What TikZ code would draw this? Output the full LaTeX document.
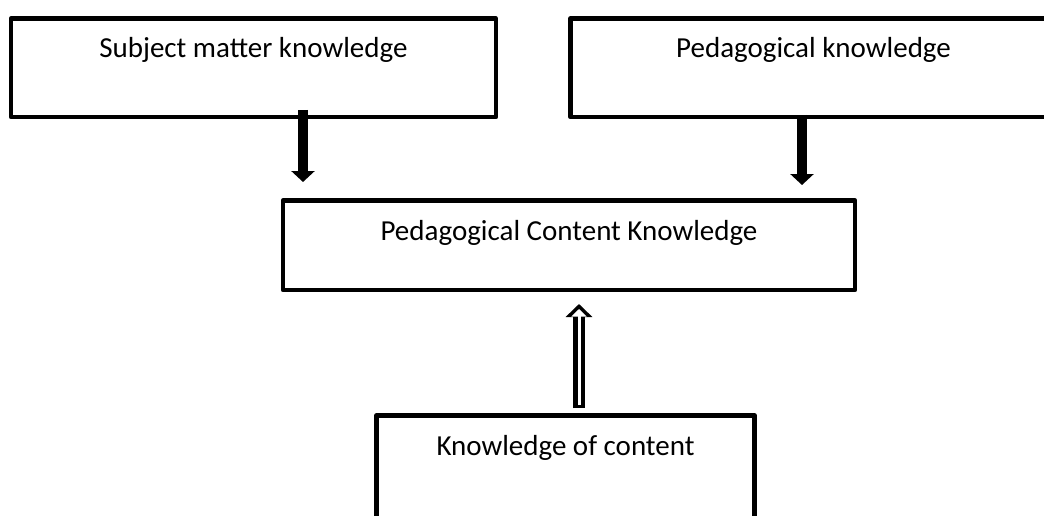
\documentclass[tikz,border=0pt]{standalone}
\usepackage{fontspec}
\setmainfont{Carlito}
\usetikzlibrary{shapes,arrows.meta}
\tikzstyle{block} = [rectangle, draw=black, line width=4.5pt, line join=round, inner sep=0pt, outer sep=0pt, anchor=base, text height=39.5pt, font=\fontsize{29}{34}\selectfont]
\tikzstyle{solidarrow} = [line width=10pt, -{Triangle[width=23pt,length=11pt]}]
\tikzstyle{hollowarrow} = [line width=12pt, -{Triangle[width=26pt,length=13pt]}]
\tikzstyle{hollowcore} = [draw=white, line width=3pt, -{Triangle[width=15pt,length=7.5pt]}]

\begin{document}
\begin{tikzpicture}[x=1pt, y=-1pt]
\useasboundingbox (0,0) rectangle (1044,516);

\node [block, minimum width=485pt, text depth=59pt] (Subject) at (253.4,58) {Subject matter knowledge};
\node [block, minimum width=486pt, text depth=59pt] (Pedagogy) at (813.5,58) {Pedagogical knowledge};
\node [block, minimum width=572pt, text depth=50pt] (PCK) at (569,240) {Pedagogical Content Knowledge};
\node [block, minimum width=378pt, text depth=120pt] (Content) at (565.5,455) {Knowledge of content};

\coordinate (SubjectOut) at ([xshift=49.6pt,yshift=7pt]Subject.south);
\coordinate (PedagogyOut) at ([xshift=-11.5pt,yshift=2pt]Pedagogy.south);
\coordinate (ContentOut) at ([xshift=13.5pt,yshift=7.5pt]Content.north);
\coordinate (ContentCore) at ([yshift=3pt]ContentOut);

\draw [solidarrow, shorten >=18.5pt] (SubjectOut) -- (SubjectOut |- PCK.north);
\draw [solidarrow, shorten >=15.5pt] (PedagogyOut) -- (PedagogyOut |- PCK.north);
\draw [hollowarrow, shorten >=14pt] (ContentOut) -- (ContentOut |- PCK.south);
\draw [hollowcore, shorten >=19pt] (ContentCore) -- (ContentCore |- PCK.south);

\end{tikzpicture}
\end{document}
